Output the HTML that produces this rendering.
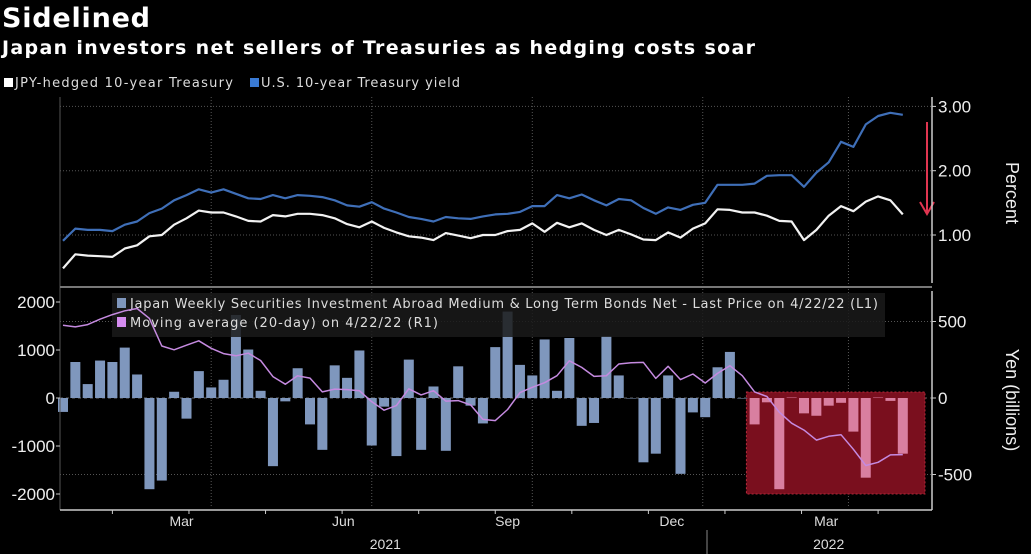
<!DOCTYPE html>
<html><head><meta charset="utf-8"><style>
html,body{margin:0;padding:0;background:#000;}
svg{display:block;font-family:"DejaVu Sans","Liberation Sans",sans-serif;}
</style></head><body>
<svg id="chart" width="1031" height="554" viewBox="0 0 1031 554">
<rect width="1031" height="554" fill="#000"/>
<text x="2" y="27" fill="#fff" font-size="27" font-weight="bold" textLength="148">Sidelined</text>
<text x="2" y="54" fill="#fff" font-size="19" font-weight="bold" textLength="753">Japan investors net sellers of Treasuries as hedging costs soar</text>
<g>
<rect x="4" y="78" width="9" height="9" fill="#fff"/>
<text x="15" y="87" fill="#ddd" font-size="13" textLength="218">JPY-hedged 10-year Treasury</text>
<rect x="250" y="78" width="9" height="9" fill="#3a7bd5"/>
<text x="261" y="87" fill="#ddd" font-size="13" textLength="199">U.S. 10-year Treasury yield</text>
</g>
<g id="grid"></g>
<g id="marks"></g>
<g id="axes"></g>
</svg>
<script>
const usYield=[0.91,1.10,1.08,1.08,1.06,1.16,1.21,1.34,1.41,1.54,1.62,1.71,1.66,1.71,1.64,1.57,1.56,1.62,1.57,1.62,1.61,1.59,1.54,1.46,1.44,1.51,1.41,1.35,1.28,1.25,1.21,1.28,1.26,1.25,1.29,1.32,1.33,1.36,1.45,1.45,1.62,1.57,1.63,1.54,1.46,1.56,1.54,1.42,1.33,1.43,1.39,1.47,1.50,1.78,1.78,1.78,1.80,1.92,1.93,1.93,1.75,1.97,2.13,2.45,2.37,2.72,2.85,2.90,2.87];
const jpyHedged=[0.48,0.70,0.68,0.67,0.66,0.79,0.84,0.98,1.00,1.16,1.26,1.38,1.35,1.35,1.29,1.22,1.21,1.31,1.29,1.33,1.33,1.31,1.26,1.17,1.12,1.21,1.11,1.04,0.98,0.96,0.92,1.03,0.99,0.95,1.00,1.00,1.06,1.08,1.18,1.05,1.19,1.12,1.18,1.08,1.00,1.08,1.01,0.93,0.92,1.04,0.96,1.10,1.18,1.40,1.39,1.35,1.35,1.30,1.22,1.21,0.92,1.08,1.30,1.45,1.37,1.52,1.60,1.54,1.32];
const flows=[-290,750,290,780,750,1050,490,-1900,-1720,130,-430,560,220,380,1730,1010,150,-1420,-70,620,-550,-1080,680,420,990,-990,-180,-1210,800,-1080,240,-1100,660,-160,-530,1060,1800,690,470,1220,150,1250,-580,-520,1290,470,0,-1340,-1160,470,-1580,-300,-400,640,960,0,-550,-90,-1900,10,-320,-370,-160,-100,-700,-1660,10,-60,-1160];
const movingAvg=[476,465,480,515,545,570,585,520,340,315,345,374,325,290,276,293,245,140,90,145,130,40,58,55,48,-25,-80,-50,60,20,48,-20,-17,-45,-140,-148,-75,35,70,100,146,243,200,141,146,222,230,233,128,207,120,157,98,161,211,146,40,10,-93,-165,-210,-275,-250,-240,-335,-441,-420,-372,-370];
const pctTicks=[1,2,3];
const pctLabels=["1.00","2.00","3.00"];
const leftTicks=[-2000,-1000,0,1000,2000];
const leftLabels=["-2000","-1000","0","1000","2000"];
const rightTicks=[-500,0,500];
const rightLabels=["-500","0","500"];
const monthLabels=["Mar","Jun","Sep","Dec","Mar"];
const monthLabelIdx=[9.6,22.7,36.0,49.3,61.8];
const gridIdx=[12.0,25.0,38.0,51.8,63.6];
const yearLabels=["2021","2022"];
const yearIdx=[26.1,62.0];
const highlightStart=55.5;

const NS="http://www.w3.org/2000/svg";
const X0=63,STEP=12.35,PL=60,PR=932;
const xS=i=>X0+i*STEP;
const yTop=v=>235-(v-1)*64.3;
const yL=v=>398-v*0.048;
const yR=v=>398-v*0.153;
const LF='"Liberation Sans", sans-serif';
function mk(tag,attrs,parent){const e=document.createElementNS(NS,tag);for(const k in attrs)e.setAttribute(k,attrs[k]);parent.appendChild(e);return e;}
const grid=document.getElementById('grid'),marks=document.getElementById('marks'),axes=document.getElementById('axes');

let e;
e=mk('line',{x1:PL,y1:97,x2:PL,y2:510,stroke:'#555','stroke-width':1},axes);


e=mk('line',{x1:PL,y1:287,x2:PR,y2:287,stroke:'#777','stroke-width':2},axes);


e=mk('line',{x1:PR,y1:97,x2:PR,y2:283,stroke:'#ccc','stroke-width':1.5},axes);


e=mk('line',{x1:PR,y1:291,x2:PR,y2:510,stroke:'#ccc','stroke-width':1.5},axes);


e=mk('line',{x1:PL,y1:510,x2:PR,y2:510,stroke:'#ccc','stroke-width':1.5},axes);



gridIdx.forEach(m=>{
  const x=xS(m);
  e=mk('line',{x1:x,y1:97,x2:x,y2:508,stroke:'#555','stroke-dasharray':'1,2'},grid);
  
  
});
monthLabelIdx.forEach((m,k)=>{
  e=mk('text',{x:xS(m),y:526,fill:'#ddd','font-size':14,'text-anchor':'middle','font-family':LF},axes);
  e.textContent=monthLabels[k];
  
  
});
for(let i=4;i<69;i+=6.2){
  e=mk('line',{x1:xS(i),y1:510,x2:xS(i),y2:514,stroke:'#ccc'},axes);
  
  
}
yearLabels.forEach((t,k)=>{
  e=mk('text',{x:xS(yearIdx[k]),y:549,fill:'#ddd','font-size':14,'text-anchor':'middle','font-family':LF},axes);
  e.textContent=t;
  
  
});
e=mk('line',{x1:707,y1:530,x2:707,y2:554,stroke:'#888'},axes);



pctTicks.forEach((v,k)=>{
  const y=yTop(v);
  e=mk('line',{x1:PL,y1:y,x2:PR,y2:y,stroke:'#555','stroke-dasharray':'1,2'},grid);
  
  
  e=mk('line',{x1:PR,y1:y,x2:PR+4,y2:y,stroke:'#ccc'},axes);
  
  
  e=mk('text',{x:PR+6,y:y+6,fill:'#eee','font-size':17,'font-family':LF},axes);
  e.textContent=pctLabels[k];
  
  
});
e=mk('text',{x:0,y:0,fill:'#eee','font-size':18,transform:'translate(1006,193) rotate(90)','text-anchor':'middle','font-family':LF},axes);
e.textContent='Percent';



rightTicks.forEach((v,k)=>{
  const y=yR(v);
  if(v!==0){e=mk('line',{x1:PL,y1:y,x2:PR,y2:y,stroke:'#555','stroke-dasharray':'1,2'},grid);
  
  }
  e=mk('line',{x1:PR,y1:y,x2:PR+4,y2:y,stroke:'#ccc'},axes);
  
  
  e=mk('text',{x:PR+6,y:y+6,fill:'#eee','font-size':17,'font-family':LF},axes);
  e.textContent=rightLabels[k];
  
  
});
leftTicks.forEach((v,k)=>{
  const y=yL(v);
  e=mk('line',{x1:PL-4,y1:y,x2:PL,y2:y,stroke:'#ccc'},axes);
  
  
  e=mk('text',{x:PL-5,y:y+6,fill:'#eee','font-size':17,'text-anchor':'end','font-family':LF},axes);
  e.textContent=leftLabels[k];
  
  
});
e=mk('text',{x:0,y:0,fill:'#eee','font-size':18,transform:'translate(1006,400) rotate(90)','text-anchor':'middle','font-family':LF},axes);
e.textContent='Yen (billions)';



e=mk('line',{x1:PL,y1:yL(0),x2:PR,y2:yL(0),stroke:'#666','stroke-dasharray':'3,3'},grid);



const hx=xS(highlightStart)-2;
e=mk('rect',{x:hx,y:392,width:925-hx,height:102,fill:'#7a0f1e',stroke:'#b22a3a','stroke-dasharray':'2,2'},marks);



flows.forEach((v,i)=>{
  const y0=yL(0),y1=yL(v);
  const inBox=i>=highlightStart;
  const r=mk('rect',{x:xS(i)-5,y:Math.min(y0,y1),width:10,height:Math.max(0.5,Math.abs(y1-y0)),fill:inBox?'#d97fa0':'#7f97bd'},marks);
  
  
});

const lg=mk('g',{},marks);


e=mk('rect',{x:112,y:293,width:773,height:44,fill:'#1a1a1a',opacity:0.85},lg);


e=mk('rect',{x:117,y:298,width:9,height:10,fill:'#7f97bd'},lg);


e=mk('text',{x:130,y:308,fill:'#ddd','font-size':13,textLength:748},lg);
e.textContent='Japan Weekly Securities Investment Abroad Medium & Long Term Bonds Net - Last Price on 4/22/22 (L1)';


e=mk('rect',{x:117,y:317,width:9,height:10,fill:'#d58cf0'},lg);


e=mk('text',{x:130,y:327,fill:'#ddd','font-size':13,textLength:308},lg);
e.textContent='Moving average (20-day) on 4/22/22 (R1)';



function line(arr,yf,color,w,name){
  const p=mk('polyline',{points:arr.map((v,i)=>xS(i).toFixed(1)+','+yf(v).toFixed(1)).join(' '),fill:'none',stroke:color,'stroke-width':w,'stroke-linejoin':'round'},marks);
  
  
}
line(movingAvg,yR,'#c58ae0',1.5,'moving-average-line');
line(usYield,yTop,'#3f6fb8',2.2,'us-yield-line');
line(jpyHedged,yTop,'#f2f2f2',2.2,'jpy-hedged-line');

e=mk('line',{x1:927,y1:122,x2:927,y2:212,stroke:'#e03550','stroke-width':2},marks);


e=mk('polyline',{points:'920,202 927,214 934,202',fill:'none',stroke:'#e03550','stroke-width':2},marks);


</script>
</body></html>
